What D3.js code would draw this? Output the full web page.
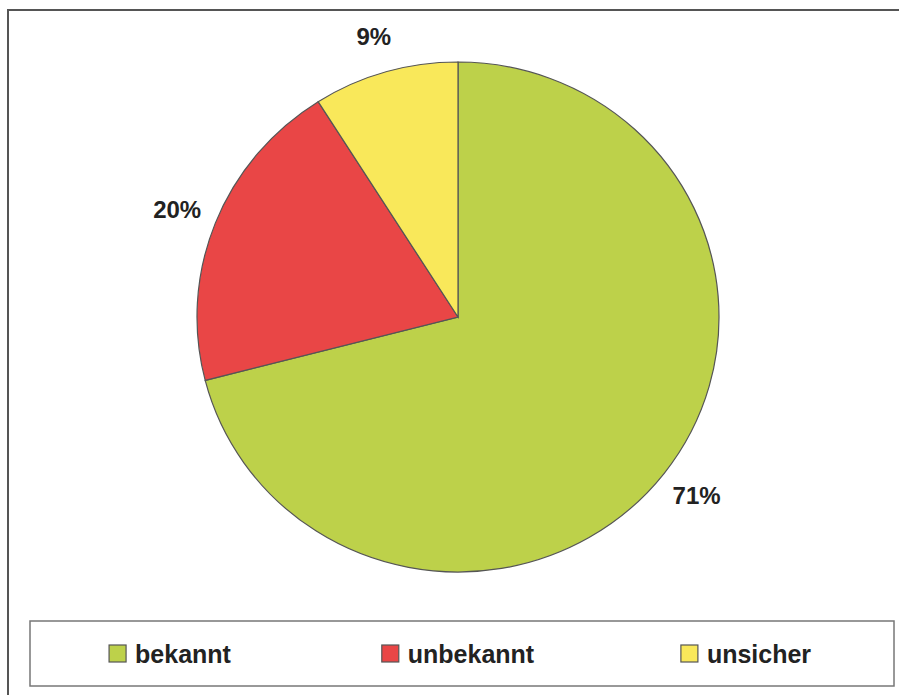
<!DOCTYPE html>
<html>
<head>
<meta charset="utf-8">
<script src="https://cdn.jsdelivr.net/npm/d3@7"></script>
<style>
  body { margin: 0; background: #fff; }
  .lab { font-family: "Liberation Sans", Arial, sans-serif; font-weight: bold; font-size: 24px; fill: #222; }
  .leg { font-family: "Liberation Sans", Arial, sans-serif; font-weight: bold; font-size: 25px; fill: #222; }
</style>
</head>
<body>
<script>
// data
var categories = ["bekannt", "unbekannt", "unsicher"];
var values = [71, 20, 9];
var labels = ["71%", "20%", "9%"];
var colors = ["#bdd14a", "#e94646", "#f9e85a"];

// set up SVG
var w = 899;
var h = 695;

// pie geometry (slightly squashed, like the original)
var cx = 458;
var cy = 317;
var rx = 261;
var ry = 255;

// label ellipse
var lrx = 302;
var lry = 292;

// legend box
var legX = 30, legY = 621, legW = 864, legH = 65;

var svg = d3.select("body")
            .append("svg")
            .attr("width", w)
            .attr("height", h);

// outer frame
svg.append("rect")
   .attr("x", 8)
   .attr("y", 10)
   .attr("width", w + 10)
   .attr("height", h + 10)
   .attr("fill", "none")
   .attr("stroke", "#555")
   .attr("stroke-width", 2);

var pie = d3.pie().sort(null).value(function(d) { return d; });
var arcs = pie(values);

var arcGen = d3.arc().innerRadius(0).outerRadius(rx);
var labArc = d3.arc().innerRadius(lrx).outerRadius(lrx);

var g = svg.append("g")
           .attr("transform", "translate(" + cx + "," + cy + ") scale(1," + (ry / rx) + ")");

g.selectAll("path")
 .data(arcs)
 .enter()
 .append("path")
 .attr("d", arcGen)
 .attr("fill", function(d, i) { return colors[i]; })
 .attr("stroke", "#555")
 .attr("stroke-width", 1.2)
 .attr("vector-effect", "non-scaling-stroke");

// percentage labels
svg.selectAll("text.lab")
   .data(arcs)
   .enter()
   .append("text")
   .attr("class", "lab")
   .attr("text-anchor", "middle")
   .attr("dominant-baseline", "central")
   .attr("x", function(d) { return cx + labArc.centroid(d)[0]; })
   .attr("y", function(d) { return cy + labArc.centroid(d)[1] * (lry / lrx); })
   .text(function(d, i) { return labels[i]; });

// legend
svg.append("rect")
   .attr("x", legX)
   .attr("y", legY)
   .attr("width", legW)
   .attr("height", legH)
   .attr("fill", "#fff")
   .attr("stroke", "#777")
   .attr("stroke-width", 1.5);

var legScale = d3.scaleBand()
                 .domain(categories)
                 .range([legX, legX + legW]);

var sq = 17;
var gap = 9;
var items = svg.selectAll("g.item")
               .data(categories)
               .enter()
               .append("g")
               .attr("class", "item");

items.each(function(c, i) {
    var it = d3.select(this);
    var t = it.append("text")
              .attr("class", "leg")
              .attr("y", legY + legH / 2)
              .attr("dominant-baseline", "central")
              .text(c);
    var tw = t.node().getComputedTextLength();
    var total = sq + gap + tw;
    var x0 = legScale(c) + legScale.bandwidth() / 2 - total / 2 - 4;
    it.append("rect")
      .attr("x", x0)
      .attr("y", legY + legH / 2 - sq / 2)
      .attr("width", sq)
      .attr("height", sq)
      .attr("fill", colors[i])
      .attr("stroke", "#555")
      .attr("stroke-width", 1.2);
    t.attr("x", x0 + sq + gap);
});
</script>
</body>
</html>
